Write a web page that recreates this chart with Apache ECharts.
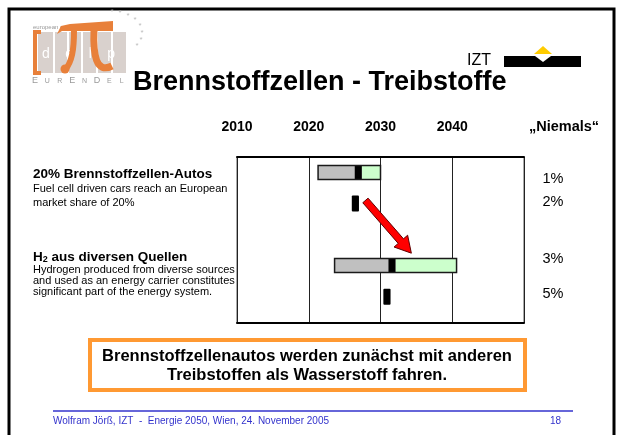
<!DOCTYPE html>
<html>
<head>
<meta charset="utf-8">
<script src="https://cdn.jsdelivr.net/npm/echarts@6/dist/echarts.min.js"></script>
<style>
  html, body { margin: 0; padding: 0; background: #fff; }
  #main { width: 618px; height: 435px; }
</style>
</head>
<body>
<div id="main"></div>
<script>
// Zeitachse + Delphi-Ergebnisse (Quartile / Median in Jahren)
const tickLabels = ['2010', '2020', '2030', '2040'];
const lowerQuartile = [2021.3, 2023.6];
const medianYear = [2026.9, 2031.6];
const upperQuartile = [2030, 2040.6];
const markYear = [2026.5, 2030.9];
const niemals = ['1%', '2%', '3%', '5%'];
// Pfeil (in Datenkoordinaten: Jahr, Zeile)
const arrowFrom = [2027.9, 0.9];
const arrowTo = [2034.3, 2.6];

const FONT = '"Liberation Sans", Arial, sans-serif';
const chart = echarts.init(document.getElementById('main'));

// jede Aussage belegt zwei Zeilen, dazwischen eine Leerzeile
const barData = lowerQuartile.map((lo, i) => [lo, medianYear[i], upperQuartile[i], i * 3]);
const markData = markYear.map((y, i) => [y, i * 3 + 1]);

function renderBar(params, api) {
  const slot = api.value(3);
  const lo = api.coord([api.value(0), slot]);
  const mid = api.coord([api.value(1), slot]);
  const hi = api.coord([api.value(2), slot]);
  const yr = api.size([1, 0])[0];
  const h = 14;
  const y = lo[1] - h / 2;
  return {
    type: 'group',
    children: [
      { type: 'rect', shape: { x: lo[0], y: y, width: mid[0] - yr / 2 - lo[0], height: h }, style: { fill: '#c0c0c0' } },
      { type: 'rect', shape: { x: mid[0] + yr / 2, y: y, width: hi[0] - mid[0] - yr / 2, height: h }, style: { fill: '#ccffcc' } },
      { type: 'rect', shape: { x: mid[0] - yr / 2, y: y, width: yr, height: h }, style: { fill: '#000' } },
      { type: 'rect', shape: { x: lo[0], y: y, width: hi[0] - lo[0], height: h }, style: { fill: 'none', stroke: '#1a1a1a', lineWidth: 1.5 } }
    ]
  };
}

function renderMark(params, api) {
  const p = api.coord([api.value(0), api.value(1)]);
  const yr = api.size([1, 0])[0];
  return {
    type: 'rect',
    shape: { x: p[0] - yr / 2, y: p[1] - 8, width: yr, height: 16, r: 1 },
    style: { fill: '#000' }
  };
}

function renderArrow(params, api) {
  const a = api.coord([api.value(0), api.value(1)]);
  const b = api.coord([api.value(2), api.value(3)]);
  const dx = b[0] - a[0], dy = b[1] - a[1];
  const len = Math.sqrt(dx * dx + dy * dy);
  const ux = dx / len, uy = dy / len, nx = -uy, ny = ux;
  const sw = 3.5, hw = 9, hl = 16;
  const bx = b[0] - ux * hl, by = b[1] - uy * hl;
  return {
    type: 'polygon',
    shape: {
      points: [
        [a[0] + nx * sw, a[1] + ny * sw],
        [bx + nx * sw, by + ny * sw],
        [bx + nx * hw, by + ny * hw],
        b,
        [bx - nx * hw, by - ny * hw],
        [bx - nx * sw, by - ny * sw],
        [a[0] - nx * sw, a[1] - ny * sw]
      ]
    },
    style: { fill: '#ff0000', stroke: '#600000', lineWidth: 1 }
  };
}

// Logo-Sterne im Bogen
const stars = [[112, 12], [120, 13], [128, 16], [135, 20], [140, 26], [142, 33], [141, 40], [137, 46]];
const eurendel = [['E', 9], ['U', 7], ['R', 7], ['E', 9], ['N', 7], ['D', 9], ['E', 7], ['L', 7]];
const pctY = [179, 202, 259, 294];

const graphic = [
  // Folienrahmen
  { type: 'rect', shape: { x: 9, y: 9, width: 605, height: 440 }, style: { fill: 'none', stroke: '#000', lineWidth: 3 } },
  // delphi-Logo
  { type: 'rect', shape: { x: 38, y: 32, width: 88, height: 41 }, style: { fill: '#d9d1cd' } },
  { type: 'rect', shape: { x: 53, y: 32, width: 2, height: 41 }, style: { fill: '#fff' } },
  { type: 'rect', shape: { x: 67, y: 32, width: 2, height: 41 }, style: { fill: '#fff' } },
  { type: 'rect', shape: { x: 81, y: 32, width: 2, height: 41 }, style: { fill: '#fff' } },
  { type: 'rect', shape: { x: 96, y: 32, width: 2, height: 41 }, style: { fill: '#fff' } },
  { type: 'rect', shape: { x: 111, y: 32, width: 2, height: 41 }, style: { fill: '#fff' } },
  { type: 'polyline', shape: { points: [[41, 32], [35, 32], [35, 73], [41, 73]] }, style: { stroke: '#e8803a', lineWidth: 4, fill: 'none' } },
  { type: 'text', style: { text: 'european energy', x: 33, y: 27, font: '6px ' + FONT, fill: '#999', verticalAlign: 'middle' } },
  { type: 'text', style: { text: 'd    e    l    p    h    i', x: 42, y: 54, font: '14px ' + FONT, fill: '#fff', verticalAlign: 'middle' } },
  { type: 'polygon', shape: { points: [[57, 34], [61, 26], [70, 24], [113, 21], [113, 31], [70, 31], [62, 31]] }, style: { fill: '#e8803a' } },
  { type: 'bezierCurve', shape: { x1: 74, y1: 30, cpx1: 74, cpy1: 50, x2: 65, y2: 70, cpx2: 72, cpy2: 62 }, style: { stroke: '#e8803a', lineWidth: 6, fill: 'none' } },
  { type: 'circle', shape: { cx: 65, cy: 69, r: 4.5 }, style: { fill: '#e8803a' } },
  { type: 'bezierCurve', shape: { x1: 94, y1: 30, cpx1: 93, cpy1: 55, x2: 112, y2: 66, cpx2: 96, cpy2: 74 }, style: { stroke: '#e8803a', lineWidth: 7, fill: 'none' } }
];
stars.forEach(s => graphic.push({ type: 'text', style: { text: '*', x: s[0], y: s[1], font: '8px ' + FONT, fill: '#bbb', align: 'center', verticalAlign: 'middle' } }));
eurendel.forEach((l, i) => graphic.push({ type: 'text', style: { text: l[0], x: 35 + i * 12.4, y: 85, font: l[1] + 'px ' + FONT, fill: '#9a9a9a', align: 'center', verticalAlign: 'bottom' } }));
graphic.push(
  // Titel
  { type: 'text', style: { text: 'Brennstoffzellen - Treibstoffe', x: 133, y: 83, font: 'bold 27px ' + FONT, fill: '#000', verticalAlign: 'middle' } },
  // IZT-Logo
  { type: 'text', style: { text: 'IZT', x: 467, y: 61, font: '16px ' + FONT, fill: '#000', verticalAlign: 'middle' } },
  { type: 'rect', shape: { x: 504, y: 56, width: 77, height: 11 }, style: { fill: '#000' } },
  { type: 'polygon', shape: { points: [[535, 56], [551, 56], [543, 62]] }, style: { fill: '#fff' } },
  { type: 'polygon', shape: { points: [[534, 54], [552, 54], [543, 46]] }, style: { fill: '#ffcc00' } },
  // Kopfzeile "Niemals"
  { type: 'text', style: { text: '\u201eNiemals\u201c', x: 564, y: 127, font: 'bold 14.5px ' + FONT, fill: '#000', align: 'center', verticalAlign: 'middle' } },
  // linke Beschriftung
  { type: 'text', style: { text: '20% Brennstoffzellen-Autos', x: 33, y: 174, font: 'bold 13.5px ' + FONT, fill: '#000', verticalAlign: 'middle' } },
  { type: 'text', style: { text: 'Fuel cell driven cars reach an European', x: 33, y: 189, font: '11px ' + FONT, fill: '#000', verticalAlign: 'middle' } },
  { type: 'text', style: { text: 'market share of 20%', x: 33, y: 203, font: '11px ' + FONT, fill: '#000', verticalAlign: 'middle' } },
  {
    type: 'text',
    style: {
      text: '{b|H}{s|2}{b| aus diversen Quellen}', x: 33, y: 257, fill: '#000', verticalAlign: 'middle',
      rich: {
        b: { font: 'bold 13.5px ' + FONT, lineHeight: 14, verticalAlign: 'bottom' },
        s: { font: 'bold 9px ' + FONT, lineHeight: 8, verticalAlign: 'bottom' }
      }
    }
  },
  { type: 'text', style: { text: 'Hydrogen produced from diverse sources', x: 33, y: 270, font: '11px ' + FONT, fill: '#000', verticalAlign: 'middle' } },
  { type: 'text', style: { text: 'and used as an energy carrier constitutes', x: 33, y: 281, font: '11px ' + FONT, fill: '#000', verticalAlign: 'middle' } },
  { type: 'text', style: { text: 'significant part of the energy system.', x: 33, y: 292, font: '11px ' + FONT, fill: '#000', verticalAlign: 'middle' } },
  // Fazit-Kasten
  { type: 'rect', shape: { x: 90, y: 340, width: 435, height: 50 }, style: { fill: '#fff', stroke: '#ff9933', lineWidth: 4 } },
  { type: 'text', style: { text: 'Brennstoffzellenautos werden zunächst mit anderen', x: 307, y: 356, font: 'bold 16.5px ' + FONT, fill: '#000', align: 'center', verticalAlign: 'middle' } },
  { type: 'text', style: { text: 'Treibstoffen als Wasserstoff fahren.', x: 307, y: 375, font: 'bold 16.5px ' + FONT, fill: '#000', align: 'center', verticalAlign: 'middle' } },
  // Fußzeile
  { type: 'line', shape: { x1: 53, y1: 411, x2: 573, y2: 411 }, style: { stroke: '#3333cc', lineWidth: 1.5 } },
  { type: 'text', style: { text: 'Wolfram Jörß, IZT  -  Energie 2050, Wien, 24. November 2005', x: 53, y: 421, font: '10px ' + FONT, fill: '#3333cc', verticalAlign: 'middle' } },
  { type: 'text', style: { text: '18', x: 561, y: 421, font: '10px ' + FONT, fill: '#3333cc', align: 'right', verticalAlign: 'middle' } }
);
niemals.forEach((t, i) => graphic.push({ type: 'text', style: { text: t, x: 553, y: pctY[i], font: '14.5px ' + FONT, fill: '#000', align: 'center', verticalAlign: 'middle' } }));

const option = {
  animation: false,
  backgroundColor: '#fff',
  grid: { left: 237, right: 94, top: 157, bottom: 112, show: true, borderColor: '#555', borderWidth: 1 },
  xAxis: [
    {
      type: 'value', position: 'top', min: 2010, max: 2050, interval: 10,
      axisLine: { show: true, onZero: false, lineStyle: { color: '#000', width: 2 } },
      axisTick: { show: false },
      splitLine: { show: true, lineStyle: { color: '#222', width: 1 } },
      axisLabel: {
        margin: 23, color: '#000', fontFamily: FONT, fontWeight: 'bold', fontSize: 14,
        formatter: v => tickLabels.indexOf(String(v)) >= 0 ? String(v) : ''
      }
    },
    {
      type: 'value', position: 'bottom', min: 2010, max: 2050,
      axisLine: { show: true, onZero: false, lineStyle: { color: '#000', width: 2 } },
      axisTick: { show: false }, axisLabel: { show: false }, splitLine: { show: false }
    }
  ],
  yAxis: { type: 'value', inverse: true, min: -0.5, max: 4.85, show: false },
  graphic: graphic,
  series: [
    { type: 'custom', renderItem: renderBar, data: barData, clip: false },
    { type: 'custom', renderItem: renderMark, data: markData },
    { type: 'custom', renderItem: renderArrow, data: [[arrowFrom[0], arrowFrom[1], arrowTo[0], arrowTo[1]]], z: 5 }
  ]
};
chart.setOption(option);
</script>
</body>
</html>
